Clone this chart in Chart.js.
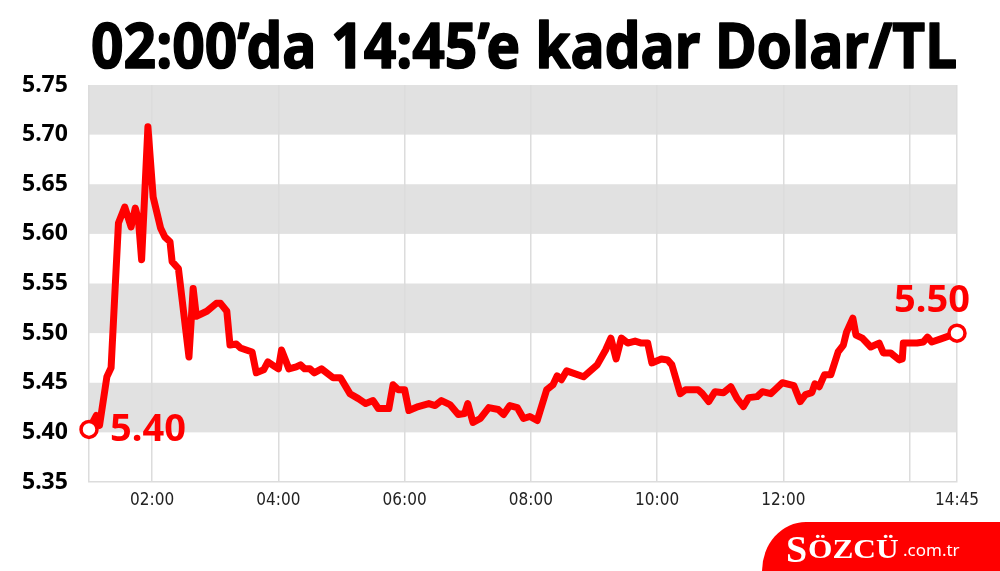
<!DOCTYPE html>
<html>
<head>
<meta charset="utf-8">
<script src="https://cdn.jsdelivr.net/npm/chart.js@4"></script>
<style>
  body { margin: 0; background: #fff; }
  #wrap { position: relative; width: 1000px; height: 571px; overflow: hidden; }
  #logo {
    position: absolute; left: 762px; top: 522px; width: 238px; height: 49px;
    background: #ff0000; border-top-left-radius: 44px 49px;
    color: #fff; white-space: nowrap;
  }
  #logo span { position: absolute; line-height: 1; }
  #logo .s { left: 24px; top: 5px; font: bold 38px 'Liberation Serif', serif; }
  #logo .ozcu { left: 46px; top: 11px; font: bold 28px 'Liberation Serif', serif; transform: scaleX(1.12); transform-origin: left top; }
  #logo .tr { left: 141px; top: 16px; font: 17px 'Noto Sans', sans-serif; }
</style>
</head>
<body>
<div id="wrap">
  <canvas id="dolarChart" width="1000" height="571"></canvas>
  <div id="logo"><span class="s">S</span><span class="ozcu">ÖZCÜ</span><span class="tr">.com.tr</span></div>
</div>
<script>
const chartTitle = '02:00’da 14:45’e kadar Dolar/TL';

// minutes since midnight
const times = [60, 67, 70, 77, 81, 88, 94, 100, 104, 107,
    110, 116, 121, 128, 132, 137, 139, 145, 155, 159,
    162, 172, 181, 185, 191, 194, 200, 204, 215, 219,
    226, 230, 237, 240, 243, 250, 257, 261, 265, 270,
    274, 281, 292, 299, 308, 316, 323, 330, 335, 345,
    349, 354, 360, 364, 373, 383, 389, 395, 403, 411,
    417, 420, 425, 432, 440, 449, 454, 460, 467, 473,
    479, 486, 495, 501, 505, 509, 514, 530, 543, 551,
    556, 561, 566, 572, 579, 585, 591, 595, 604, 610,
    614, 622, 627, 639, 643, 649, 655, 663, 670, 676,
    682, 687, 695, 700, 708, 712, 719, 730, 736, 741,
    747, 750, 754, 759, 765, 772, 777, 780, 786, 789,
    795, 803, 811, 815, 822, 830, 833, 834, 847, 853,
    857, 861, 869, 877, 885];

const rates = [5.403, 5.417, 5.407, 5.456, 5.465, 5.611, 5.627, 5.607, 5.626, 5.614,
    5.574, 5.708, 5.637, 5.606, 5.597, 5.592, 5.572, 5.565, 5.476, 5.545,
    5.517, 5.522, 5.530, 5.530, 5.522, 5.488, 5.489, 5.485, 5.481, 5.460,
    5.463, 5.471, 5.466, 5.464, 5.483, 5.464, 5.466, 5.468, 5.464, 5.464,
    5.460, 5.464, 5.455, 5.455, 5.439, 5.434, 5.429, 5.432, 5.424, 5.424,
    5.448, 5.443, 5.443, 5.422, 5.426, 5.429, 5.427, 5.432, 5.428, 5.418,
    5.419, 5.429, 5.410, 5.414, 5.425, 5.423, 5.418, 5.427, 5.425, 5.414,
    5.416, 5.412, 5.443, 5.448, 5.457, 5.453, 5.462, 5.456, 5.468, 5.483,
    5.495, 5.474, 5.495, 5.490, 5.492, 5.490, 5.490, 5.470, 5.474, 5.473,
    5.468, 5.439, 5.443, 5.443, 5.439, 5.431, 5.441, 5.440, 5.446, 5.434,
    5.426, 5.435, 5.436, 5.441, 5.439, 5.443, 5.450, 5.447, 5.431, 5.438,
    5.440, 5.449, 5.446, 5.458, 5.458, 5.481, 5.488, 5.501, 5.515, 5.498,
    5.495, 5.486, 5.490, 5.480, 5.480, 5.473, 5.474, 5.490, 5.490, 5.491,
    5.496, 5.491, 5.494, 5.497, 5.500];

const xTickValues = [60, 120, 240, 360, 480, 600, 720, 840, 885];
const xTickLabels = ['', '02:00', '04:00', '06:00', '08:00', '10:00', '12:00', '', '14:45'];
const yMin = 5.35, yMax = 5.75, yStep = 0.05;

const RED = '#ff0000';
const BAND = '#e1e1e1';

// grey stripes on every other y interval
const bandsPlugin = {
    id: 'bands',
    beforeDraw(chart) {
        const { ctx, chartArea, scales } = chart;
        const ticks = scales.y.ticks;
        ctx.save();
        ctx.fillStyle = BAND;
        for (let i = 1; i < ticks.length - 1; i += 2) {
            const y1 = scales.y.getPixelForValue(ticks[i].value);
            const y2 = scales.y.getPixelForValue(ticks[i + 1].value);
            ctx.fillRect(chartArea.left, y2, chartArea.right - chartArea.left, y1 - y2);
        }
        ctx.restore();
    }
};

// big title, squeezed to the plot width
const titlePlugin = {
    id: 'bigTitle',
    afterDraw(chart) {
        const { ctx, chartArea } = chart;
        ctx.save();
        ctx.font = 'bold 63px "Noto Sans", sans-serif';
        ctx.fillStyle = '#000';
        ctx.strokeStyle = '#000';
        ctx.lineWidth = 1.6;
        ctx.lineJoin = 'round';
        ctx.textBaseline = 'alphabetic';
        const w = ctx.measureText(chartTitle).width;
        const target = 866;
        const cx = (chartArea.left + chartArea.right) / 2 + 1;
        ctx.translate(cx, 68);
        ctx.scale(target / w, 1);
        ctx.textAlign = 'center';
        ctx.fillText(chartTitle, 0, 0);
        ctx.strokeText(chartTitle, 0, 0);
        ctx.restore();
    }
};

// first and last value next to the end points
const endLabelsPlugin = {
    id: 'endLabels',
    afterDatasetsDraw(chart) {
        const { ctx } = chart;
        const pts = chart.getDatasetMeta(0).data;
        const first = pts[0], last = pts[pts.length - 1];
        ctx.save();
        ctx.font = 'bold 38px "Noto Sans", sans-serif';
        ctx.fillStyle = RED;
        ctx.textBaseline = 'middle';
        ctx.textAlign = 'left';
        ctx.fillText(rates[0].toFixed(2), first.x + 21, first.y + 1);
        ctx.textAlign = 'center';
        ctx.fillText(rates[rates.length - 1].toFixed(2), last.x - 25, last.y - 32);
        ctx.restore();
    }
};

const ctx = document.getElementById('dolarChart').getContext('2d');
const lastIdx = rates.length - 1;

new Chart(ctx, {
    type: 'line',
    data: {
        datasets: [{
            data: times.map((t, i) => ({ x: t, y: rates[i] })),
            borderColor: RED,
            borderWidth: 7,
            borderJoinStyle: 'round',
            borderCapStyle: 'round',
            tension: 0,
            clip: false,
            pointRadius: c => (c.dataIndex === 0 || c.dataIndex === lastIdx) ? 8 : 0,
            pointBackgroundColor: '#fff',
            pointBorderColor: RED,
            pointBorderWidth: 3.5,
            pointHoverRadius: 0
        }]
    },
    options: {
        responsive: false,
        animation: false,
        layout: { padding: { left: 22, right: 43, top: 85, bottom: 0 } },
        plugins: {
            legend: { display: false },
            tooltip: { enabled: false }
        },
        scales: {
            x: {
                type: 'linear',
                min: xTickValues[0],
                max: xTickValues[xTickValues.length - 1],
                afterBuildTicks: axis => {
                    axis.ticks = xTickValues.map(v => ({ value: v }));
                },
                afterFit: axis => { axis.height = 89; },
                grid: { color: '#dcdcdc', lineWidth: 1.5, drawTicks: false },
                border: { display: true, color: '#dcdcdc', width: 1.5 },
                ticks: {
                    autoSkip: false,
                    maxRotation: 0,
                    padding: 8,
                    color: '#222',
                    font: { family: "'Liberation Sans Narrow', 'DejaVu Sans Condensed', 'Roboto', sans-serif", size: 17 },
                    callback: v => xTickLabels[xTickValues.indexOf(v)]
                }
            },
            y: {
                min: yMin,
                max: yMax,
                afterFit: axis => { axis.width = 67; },
                grid: { display: false },
                border: { display: false },
                ticks: {
                    stepSize: yStep,
                    crossAlign: 'far',
                    color: '#000',
                    font: { family: '"Noto Sans", sans-serif', size: 23, weight: 'bold' },
                    callback: v => Number(v).toFixed(2)
                }
            }
        }
    },
    plugins: [bandsPlugin, titlePlugin, endLabelsPlugin]
});
</script>
</body>
</html>
